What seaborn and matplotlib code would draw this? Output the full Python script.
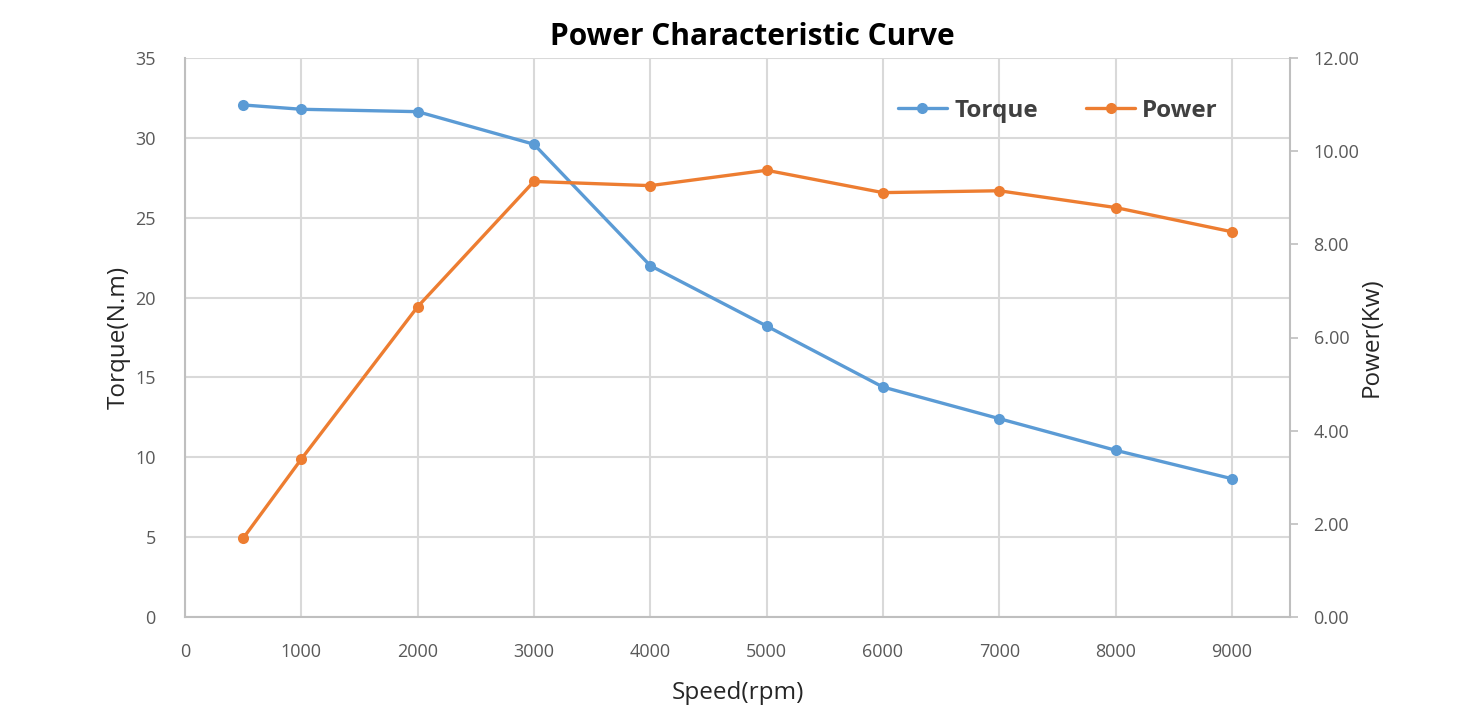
import matplotlib
matplotlib.use("Agg")
import matplotlib.pyplot as plt
import seaborn as sns
import pandas as pd
from matplotlib.lines import Line2D

speed = [500, 1000, 2000, 3000, 4000, 5000, 6000, 7000, 8000, 9000]
torque = [32.06, 31.79, 31.64, 29.6, 22.0, 18.22, 14.40, 12.42, 10.44, 8.66]
power = [1.69, 3.39, 6.66, 9.35, 9.26, 9.59, 9.11, 9.15, 8.79, 8.27]
x_ticks = [0, 1000, 2000, 3000, 4000, 5000, 6000, 7000, 8000, 9000]
torque_ticks = [0, 5, 10, 15, 20, 25, 30, 35]
power_ticks = [0, 2, 4, 6, 8, 10, 12]

sns.set_theme(style="white")
plt.rcParams['font.family'] = ['Open Sans', 'DejaVu Sans']

BLUE = "#5B9BD5"
ORANGE = "#ED7D31"
GRID = "#D9D9D9"
SPINE = "#BFBFBF"
TXT = "#595959"

df = pd.DataFrame({"speed": speed, "torque": torque, "power": power})

fig = plt.figure(figsize=(14.63, 7.15), dpi=100)
ax = fig.add_axes([185/1463, 1-617/715, (1290-185)/1463, (617-58)/715])
ax2 = ax.twinx()

sns.lineplot(data=df, x="speed", y="torque", ax=ax, color=BLUE, marker="o",
             markersize=8, linewidth=2.4, markeredgewidth=0, zorder=3)
sns.lineplot(data=df, x="speed", y="power", ax=ax2, color=ORANGE, marker="o",
             markersize=8, linewidth=2.4, markeredgewidth=0, zorder=3)

ax.set_xlim(0, 9500)
ax.set_ylim(0, 35)
ax2.set_ylim(0, 12)
ax.set_xticks(x_ticks)
ax.set_yticks(torque_ticks)
ax2.set_yticks(power_ticks)
ax2.set_yticklabels([f"{v:.2f}" for v in power_ticks])

ax.grid(True, color=GRID, linewidth=1.5)
ax.set_axisbelow(True)
ax2.grid(False)

for a in (ax, ax2):
    for s in a.spines.values():
        s.set_visible(False)
ax.spines['left'].set_visible(True)
ax.spines['bottom'].set_visible(True)
ax2.spines['right'].set_visible(True)
for s in (ax.spines['left'], ax.spines['bottom'], ax2.spines['right']):
    s.set_color(SPINE)
    s.set_linewidth(1.5)

ax.tick_params(axis='x', length=0, labelsize=13, labelcolor=TXT, pad=19)
ax.tick_params(axis='y', length=0, labelsize=13, labelcolor=TXT, pad=21)
ax2.tick_params(axis='y', length=6, width=1.2, color=SPINE, labelsize=13,
                labelcolor=TXT, pad=11, direction='out')

ax.set_xlabel("Speed(rpm)", fontsize=17.5, color="#262626", labelpad=14)
ax.set_ylabel("Torque(N.m)", fontsize=17.5, color="#262626", labelpad=3)
ax2.set_ylabel("Power(Kw)", fontsize=17.5, color="#262626", labelpad=0)

fig.text(752/1463, 1-37/715, "Power Characteristic Curve",
         ha="center", va="center", fontsize=21.5, fontweight="bold", color="#000000")

handles = [Line2D([0], [0], color=BLUE, marker="o", markersize=8, linewidth=2.4, markeredgewidth=0),
           Line2D([0], [0], color=ORANGE, marker="o", markersize=8, linewidth=2.4, markeredgewidth=0)]
leg = ax.legend(handles, ["Torque", "Power"], ncol=2, frameon=False,
                loc="center", bbox_to_anchor=((1058-185)/1105, (617-111)/559),
                prop={"weight": "bold", "size": 17.5}, handlelength=2.0,
                handletextpad=0.3, columnspacing=2.0)
for t in leg.get_texts():
    t.set_color("#404040")

fig.savefig("out.png", dpi=100, facecolor="white")
